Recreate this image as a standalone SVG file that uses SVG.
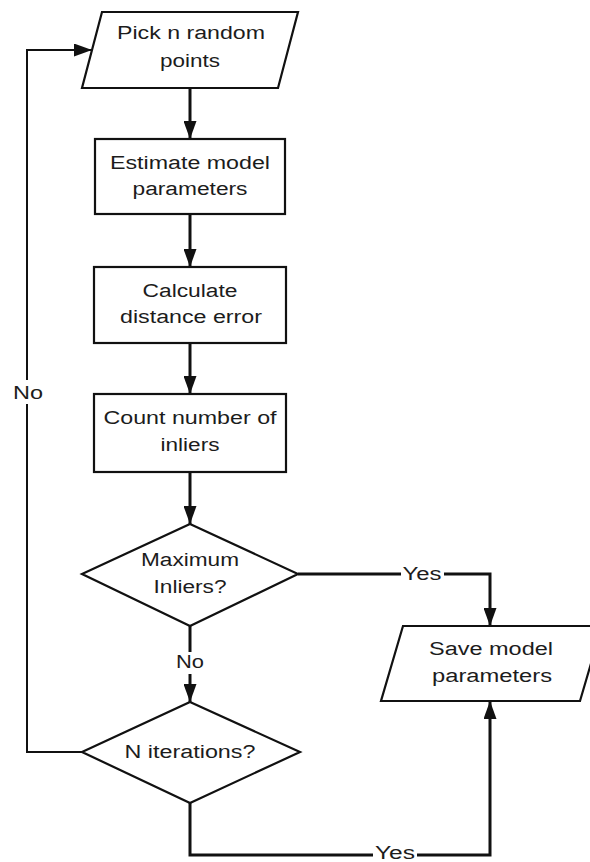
<svg xmlns="http://www.w3.org/2000/svg" width="590" height="862" viewBox="0 0 590 862">
<style>
.shape{fill:#fff;stroke:#111;stroke-width:2.2}
.t{font-family:"Liberation Sans",Arial,sans-serif;font-size:18px;fill:#1c1c1c;text-anchor:middle}
.c{fill:none;stroke:#111;stroke-width:3}
.thin{fill:none;stroke:#111;stroke-width:2}
.lbl{fill:#fff}
</style>
<defs>
<marker id="ah" markerUnits="userSpaceOnUse" markerWidth="18" markerHeight="13" viewBox="0 0 18 13" refX="18" refY="6.5" orient="auto">
<path d="M0,0 L18,6.5 L0,13 z" fill="#111"/>
</marker>
</defs>
<rect width="590" height="862" fill="#fff"/>
<g id="connectors">
<path class="c" d="M190,88 V139" marker-end="url(#ah)"/>
<path class="c" d="M190,214 V267" marker-end="url(#ah)"/>
<path class="c" d="M190,343 V394" marker-end="url(#ah)"/>
<path class="c" d="M190,472 V524" marker-end="url(#ah)"/>
<path class="c" d="M298,574 H490 V626" marker-end="url(#ah)"/>
<path class="c" d="M190,626 V702" marker-end="url(#ah)"/>
<path class="thin" d="M82,752 H27 V50 H92" marker-end="url(#ah)"/>
<path class="c" d="M190,803 V855 H490 V701" marker-end="url(#ah)"/>
<rect class="lbl" x="401" y="563" width="43" height="20"/>
<text class="t" x="422" y="580" textLength="39" lengthAdjust="spacingAndGlyphs">Yes</text>
<rect class="lbl" x="174" y="652" width="32" height="22"/>
<text class="t" x="190" y="668" textLength="28" lengthAdjust="spacingAndGlyphs">No</text>
<rect class="lbl" x="11" y="380" width="34" height="24"/>
<text class="t" x="28" y="399" textLength="30" lengthAdjust="spacingAndGlyphs">No</text>
<rect class="lbl" x="373" y="845" width="44" height="17"/>
<text class="t" x="395" y="859" textLength="40" lengthAdjust="spacingAndGlyphs">Yes</text>
</g>
<g id="pick">
<polygon class="shape" points="102,12 298,12 278,88 82,88"/>
<text class="t" x="191" y="39" textLength="148" lengthAdjust="spacingAndGlyphs">Pick n random</text>
<text class="t" x="190" y="67" textLength="60" lengthAdjust="spacingAndGlyphs">points</text>
</g>
<g id="estimate">
<rect class="shape" x="95" y="139" width="190" height="75"/>
<text class="t" x="190" y="169" textLength="160" lengthAdjust="spacingAndGlyphs">Estimate model</text>
<text class="t" x="190" y="195" textLength="115" lengthAdjust="spacingAndGlyphs">parameters</text>
</g>
<g id="calculate">
<rect class="shape" x="94" y="267" width="192" height="76"/>
<text class="t" x="190" y="297" textLength="95" lengthAdjust="spacingAndGlyphs">Calculate</text>
<text class="t" x="191" y="323" textLength="142" lengthAdjust="spacingAndGlyphs">distance error</text>
</g>
<g id="count">
<rect class="shape" x="94" y="394" width="192" height="78"/>
<text class="t" x="190" y="424" textLength="173" lengthAdjust="spacingAndGlyphs">Count number of</text>
<text class="t" x="190" y="451" textLength="59" lengthAdjust="spacingAndGlyphs">inliers</text>
</g>
<g id="maxinliers">
<polygon class="shape" points="190,524 298,574 190,626 82,574"/>
<text class="t" x="190" y="566" textLength="98" lengthAdjust="spacingAndGlyphs">Maximum</text>
<text class="t" x="190" y="593" textLength="73" lengthAdjust="spacingAndGlyphs">Inliers?</text>
</g>
<g id="save">
<polygon class="shape" points="403,626 602,626 580,701 381,701"/>
<text class="t" x="491" y="655" textLength="124" lengthAdjust="spacingAndGlyphs">Save model</text>
<text class="t" x="492" y="682" textLength="120" lengthAdjust="spacingAndGlyphs">parameters</text>
</g>
<g id="niter">
<polygon class="shape" points="190,702 300,752 190,803 82,752"/>
<text class="t" x="190" y="758" textLength="131" lengthAdjust="spacingAndGlyphs">N iterations?</text>
</g>
</svg>
